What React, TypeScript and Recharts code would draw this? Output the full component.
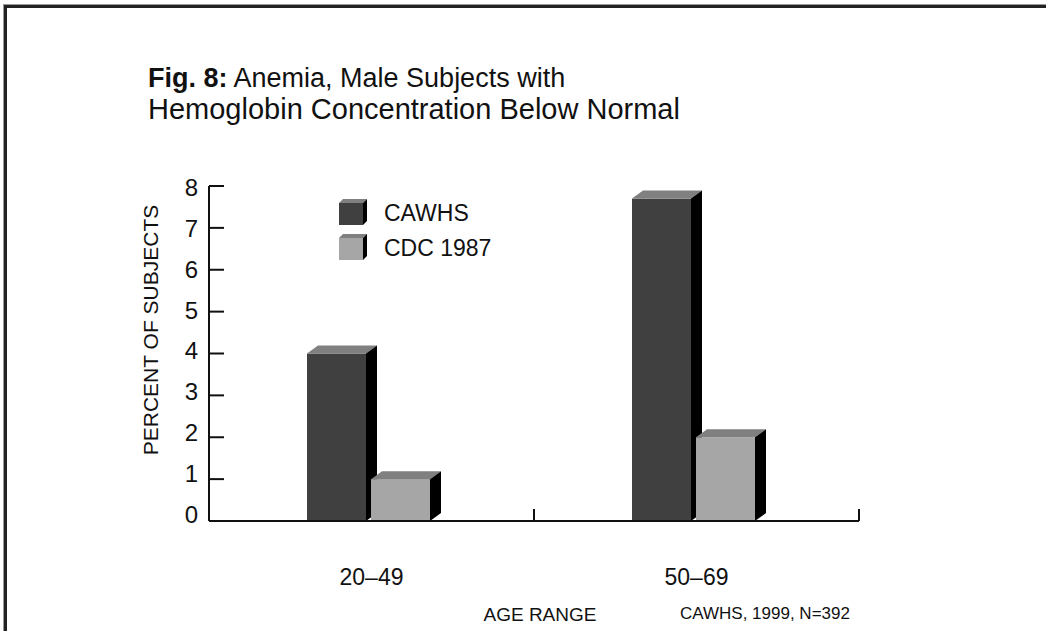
import React from 'react';
import { BarChart, Bar, XAxis, YAxis, Legend } from 'recharts';

const categories = ['20–49', '50–69'];
const cawhsValues = [4.0, 7.7];
const cdcValues = [1.0, 2.0];
const yTicks = [0, 1, 2, 3, 4, 5, 6, 7, 8];
const seriesNames = ['CAWHS', 'CDC 1987'];

const data = categories.map((c, i) => ({ range: c, cawhs: cawhsValues[i], cdc: cdcValues[i] }));

const FONT = '"Liberation Sans", Arial, sans-serif';
const INK = '#111111';
const COLORS = ['#404040', '#a6a6a6'];
const TOP = '#808080';
const SIDE = '#000000';
const DX = 11;
const DY = 8;

function Bar3D(props: any) {
  const { x, y, width, height, fill } = props;
  if (!height || height <= 0) return null;
  const bx = x - 3;
  const b = y + height;
  return (
    <g>
      <rect x={bx} y={y} width={width} height={height} fill={fill} />
      <polygon points={`${bx},${y} ${bx + DX},${y - DY} ${bx + width + DX},${y - DY} ${bx + width},${y}`} fill={TOP} />
      <polygon points={`${bx + width},${y} ${bx + width + DX},${y - DY} ${bx + width + DX},${b - DY} ${bx + width},${b}`} fill={SIDE} />
    </g>
  );
}

function YTick(props: any) {
  const { x, y, payload } = props;
  const shift = -7 + Number(payload.value) * 1.1;
  return (
    <g>
      <line x1={x} x2={x + 15} y1={y} y2={y} stroke={INK} strokeWidth={2} />
      <text x={x - 11} y={y + shift} textAnchor="end" dominantBaseline="central" fontSize={24} fontFamily={FONT} fill={INK}>
        {payload.value}
      </text>
    </g>
  );
}

function XTick(props: any) {
  const { x, y, payload, index } = props;
  const half = payload.offset ?? (props.width ? props.width / (2 * categories.length) : 0);
  return (
    <g>
      {index === 0 && <line x1={x - half} x2={x - half} y1={y} y2={y - 12} stroke={INK} strokeWidth={2} />}
      <line x1={x + half} x2={x + half} y1={y} y2={y - 12} stroke={INK} strokeWidth={2} />
      <text x={x} y={y + 56} textAnchor="middle" dominantBaseline="central" fontSize={23} fontFamily={FONT} fill={INK}>
        {payload.value}
      </text>
    </g>
  );
}

function LegendContent() {
  return (
    <div style={{ fontFamily: FONT }}>
      {seriesNames.map((name, i) => (
        <div key={name} style={{ display: 'flex', alignItems: 'center', height: 35 }}>
          <svg width={30} height={30} style={{ display: 'block' }}>
            <rect x={0} y={5} width={24} height={22} fill={COLORS[i]} />
            <polygon points="0,5 4,1 28,1 24,5" fill={TOP} />
            <polygon points="24,5 28,1 28,23 24,27" fill={SIDE} />
          </svg>
          <span style={{ marginLeft: 15, fontSize: 23, color: INK, lineHeight: '30px' }}>{name}</span>
        </div>
      ))}
    </div>
  );
}

export default function App() {
  return (
    <div style={{ position: 'absolute', left: 0, top: 0, width: 1046, height: 631, background: '#fff', overflow: 'hidden' }}>
      <BarChart
        width={1046}
        height={631}
        data={data}
        margin={{ top: 186, right: 187, left: 0, bottom: 0 }}
        barSize={59}
        barGap={5}
      >
        <XAxis
          dataKey="range"
          height={110}
          tickSize={0}
          tickMargin={0}
          tickLine={false}
          axisLine={{ stroke: INK, strokeWidth: 2 }}
          tick={<XTick />}
          interval={0}
        />
        <YAxis
          width={209}
          domain={[0, 8]}
          ticks={yTicks}
          tickSize={0}
          tickMargin={0}
          tickLine={false}
          axisLine={{ stroke: INK, strokeWidth: 2 }}
          tick={<YTick />}
          interval={0}
        />
        <Legend
          layout="vertical"
          align="center"
          verticalAlign="middle"
          content={<LegendContent />}
          wrapperStyle={{ left: 339, top: 195, width: 200, height: 70 }}
        />
        <Bar dataKey="cawhs" name={seriesNames[0]} fill={COLORS[0]} shape={<Bar3D />} isAnimationActive={false} />
        <Bar dataKey="cdc" name={seriesNames[1]} fill={COLORS[1]} shape={<Bar3D />} isAnimationActive={false} />
      </BarChart>
      <svg width={1046} height={631} style={{ position: 'absolute', left: 0, top: 0, pointerEvents: 'none' }}>
        <rect x={3} y={4} width={1043} height={1} fill="#999" />
        <rect x={3} y={4} width={1} height={627} fill="#999" />
        <rect x={4} y={5} width={1042} height={3} fill="#222" />
        <rect x={4} y={5} width={3} height={626} fill="#222" />
        <text x={148} y={87} fontFamily={FONT} fontSize={27} fill={INK}>
          <tspan fontWeight="bold">Fig. 8:</tspan>
          <tspan> Anemia, Male Subjects with</tspan>
        </text>
        <text x={148} y={119} fontFamily={FONT} fontSize={29} fill={INK}>
          Hemoglobin Concentration Below Normal
        </text>
        <text
          x={150}
          y={330}
          transform="rotate(-90 150 330)"
          textAnchor="middle"
          dominantBaseline="central"
          fontFamily={FONT}
          fontSize={21}
          fill={INK}
        >
          PERCENT OF SUBJECTS
        </text>
        <text x={540} y={614} textAnchor="middle" dominantBaseline="central" fontFamily={FONT} fontSize={19} fill={INK}>
          AGE RANGE
        </text>
        <text x={680} y={613} dominantBaseline="central" fontFamily={FONT} fontSize={17} fill={INK}>
          CAWHS, 1999, N=392
        </text>
      </svg>
    </div>
  );
}
